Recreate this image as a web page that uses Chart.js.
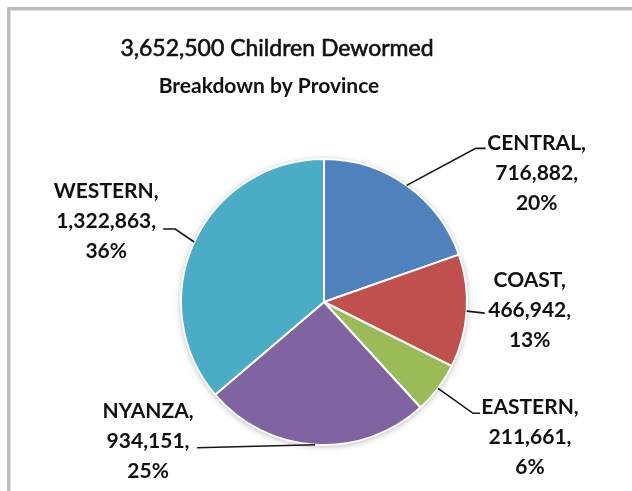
<!DOCTYPE html>
<html>
<head>
<meta charset="utf-8">
<title>Children Dewormed by Province</title>
<script src="https://cdn.jsdelivr.net/npm/chart.js@4.4.1/dist/chart.umd.min.js"></script>
<style>
  html, body { margin: 0; padding: 0; background: #fff; }
  canvas { display: block; }
</style>
</head>
<body>
<canvas id="chart" width="632" height="491"></canvas>
<script>
'use strict';

// Provinces, in slice order (clockwise from 12 o'clock)
const provinces = ['CENTRAL', 'COAST', 'EASTERN', 'NYANZA', 'WESTERN'];

// Children dewormed per province
const childrenDewormed = [716882, 466942, 211661, 934151, 1322863];

// Percentages as printed on the labels
const percentLabels = ['20%', '13%', '6%', '25%', '36%'];

// Slice colours (Office palette)
const sliceColors = ['#4F81BD', '#C0504D', '#9BBB59', '#8064A2', '#4BACC6'];

// Titles
const TITLE = '3,652,500 Children Dewormed';
const SUBTITLE = 'Breakdown by Province';

// Label placement, relative to the middle of each slice's outer edge
// label = centre of the text block, elbow/end = leader line points
const labelLayout = [
  { label: [130, -12], elbow: [69, -37], end: [79, -37] },
  { label: [63, -1], elbow: null, end: [18, 2] },
  { label: [92, 49], elbow: [35, 25], end: [42, 25] },
  { label: [-167, -3], elbow: null, end: [-118, 3] },
  { label: [-88, -21], elbow: [-19, -13], end: [-31, -13] },
];

const LABEL_FONT = 'bold 21px Lato';
const LINE_HEIGHT = 30;
const TEXT_COLOR = '#111111';

// White background plus the grey frame on the top and left edges
const frame = {
  id: 'frame',
  beforeDraw(chart) {
    const { ctx, width, height } = chart;
    ctx.save();
    ctx.fillStyle = '#fff';
    ctx.fillRect(0, 0, width, height);
    ctx.fillStyle = '#bcbcbc';
    ctx.fillRect(7, 7, width - 7, 3);
    ctx.fillRect(7, 7, 3, height - 7);
    ctx.fillStyle = '#e2e2e2';
    ctx.fillRect(10, 10, width - 10, 1);
    ctx.fillRect(10, 10, 1, height - 10);
    ctx.restore();
  }
};

// Soft shadow behind the pie
const pieShadow = {
  id: 'pieShadow',
  beforeDatasetsDraw(chart) {
    const arc = chart.getDatasetMeta(0).data[0];
    if (!arc) return;
    const { x, y, outerRadius } = arc.getProps(['x', 'y', 'outerRadius'], true);
    const { ctx } = chart;
    ctx.save();
    ctx.shadowColor = 'rgba(0, 0, 0, 0.35)';
    ctx.shadowBlur = 6;
    ctx.shadowOffsetY = 1;
    ctx.beginPath();
    ctx.arc(x, y, outerRadius, 0, Math.PI * 2);
    ctx.fillStyle = '#fff';
    ctx.fill();
    ctx.restore();
  }
};

// Outside labels with leader lines
const dataLabels = {
  id: 'dataLabels',
  afterDatasetsDraw(chart) {
    const { ctx } = chart;
    const meta = chart.getDatasetMeta(0);
    meta.data.forEach((arc, i) => {
      const { x, y, startAngle, endAngle, outerRadius } =
        arc.getProps(['x', 'y', 'startAngle', 'endAngle', 'outerRadius'], true);
      const mid = (startAngle + endAngle) / 2;
      const ex = x + Math.cos(mid) * outerRadius;
      const ey = y + Math.sin(mid) * outerRadius;
      const lay = labelLayout[i];

      // Leader line
      ctx.save();
      ctx.strokeStyle = '#161616';
      ctx.lineWidth = 1.6;
      ctx.beginPath();
      ctx.moveTo(ex, ey);
      if (lay.elbow) ctx.lineTo(ex + lay.elbow[0], ey + lay.elbow[1]);
      ctx.lineTo(ex + lay.end[0], ey + lay.end[1]);
      ctx.stroke();

      // Text block
      const lines = [
        provinces[i] + ',',
        childrenDewormed[i].toLocaleString('en-US') + ',',
        percentLabels[i]
      ];
      const cx = ex + lay.label[0];
      const cy = ey + lay.label[1];
      ctx.font = LABEL_FONT;
      ctx.fillStyle = TEXT_COLOR;
      ctx.textAlign = 'center';
      ctx.textBaseline = 'middle';
      lines.forEach((line, k) => {
        ctx.fillText(line, cx, cy + (k - 1) * LINE_HEIGHT);
      });
      ctx.restore();
    });
  }
};

// Title and subtitle
const titles = {
  id: 'titles',
  afterDraw(chart) {
    const { ctx } = chart;
    ctx.save();
    ctx.fillStyle = TEXT_COLOR;
    ctx.strokeStyle = TEXT_COLOR;
    ctx.textAlign = 'center';
    ctx.textBaseline = 'alphabetic';
    ctx.font = '23px Lato';
    ctx.lineWidth = 0.6;
    ctx.fillText(TITLE, 277, 56);
    // thicken the regular weight a little, the original is a heavier face
    ctx.strokeText(TITLE, 277, 56);
    ctx.font = 'bold 21px Lato';
    ctx.fillText(SUBTITLE, 269, 93);
    ctx.restore();
  }
};

new Chart(document.getElementById('chart'), {
  type: 'pie',
  data: {
    labels: provinces,
    datasets: [{
      data: childrenDewormed,
      backgroundColor: sliceColors,
      borderColor: '#ffffff',
      borderWidth: 2,
      radius: 143
    }]
  },
  options: {
    responsive: false,
    animation: false,
    events: [],
    layout: {
      padding: { top: 113, left: 16, right: 0, bottom: 0 }
    },
    plugins: {
      legend: { display: false },
      tooltip: { enabled: false },
      title: { display: false }
    }
  },
  plugins: [frame, pieShadow, dataLabels, titles]
});
</script>
</body>
</html>
